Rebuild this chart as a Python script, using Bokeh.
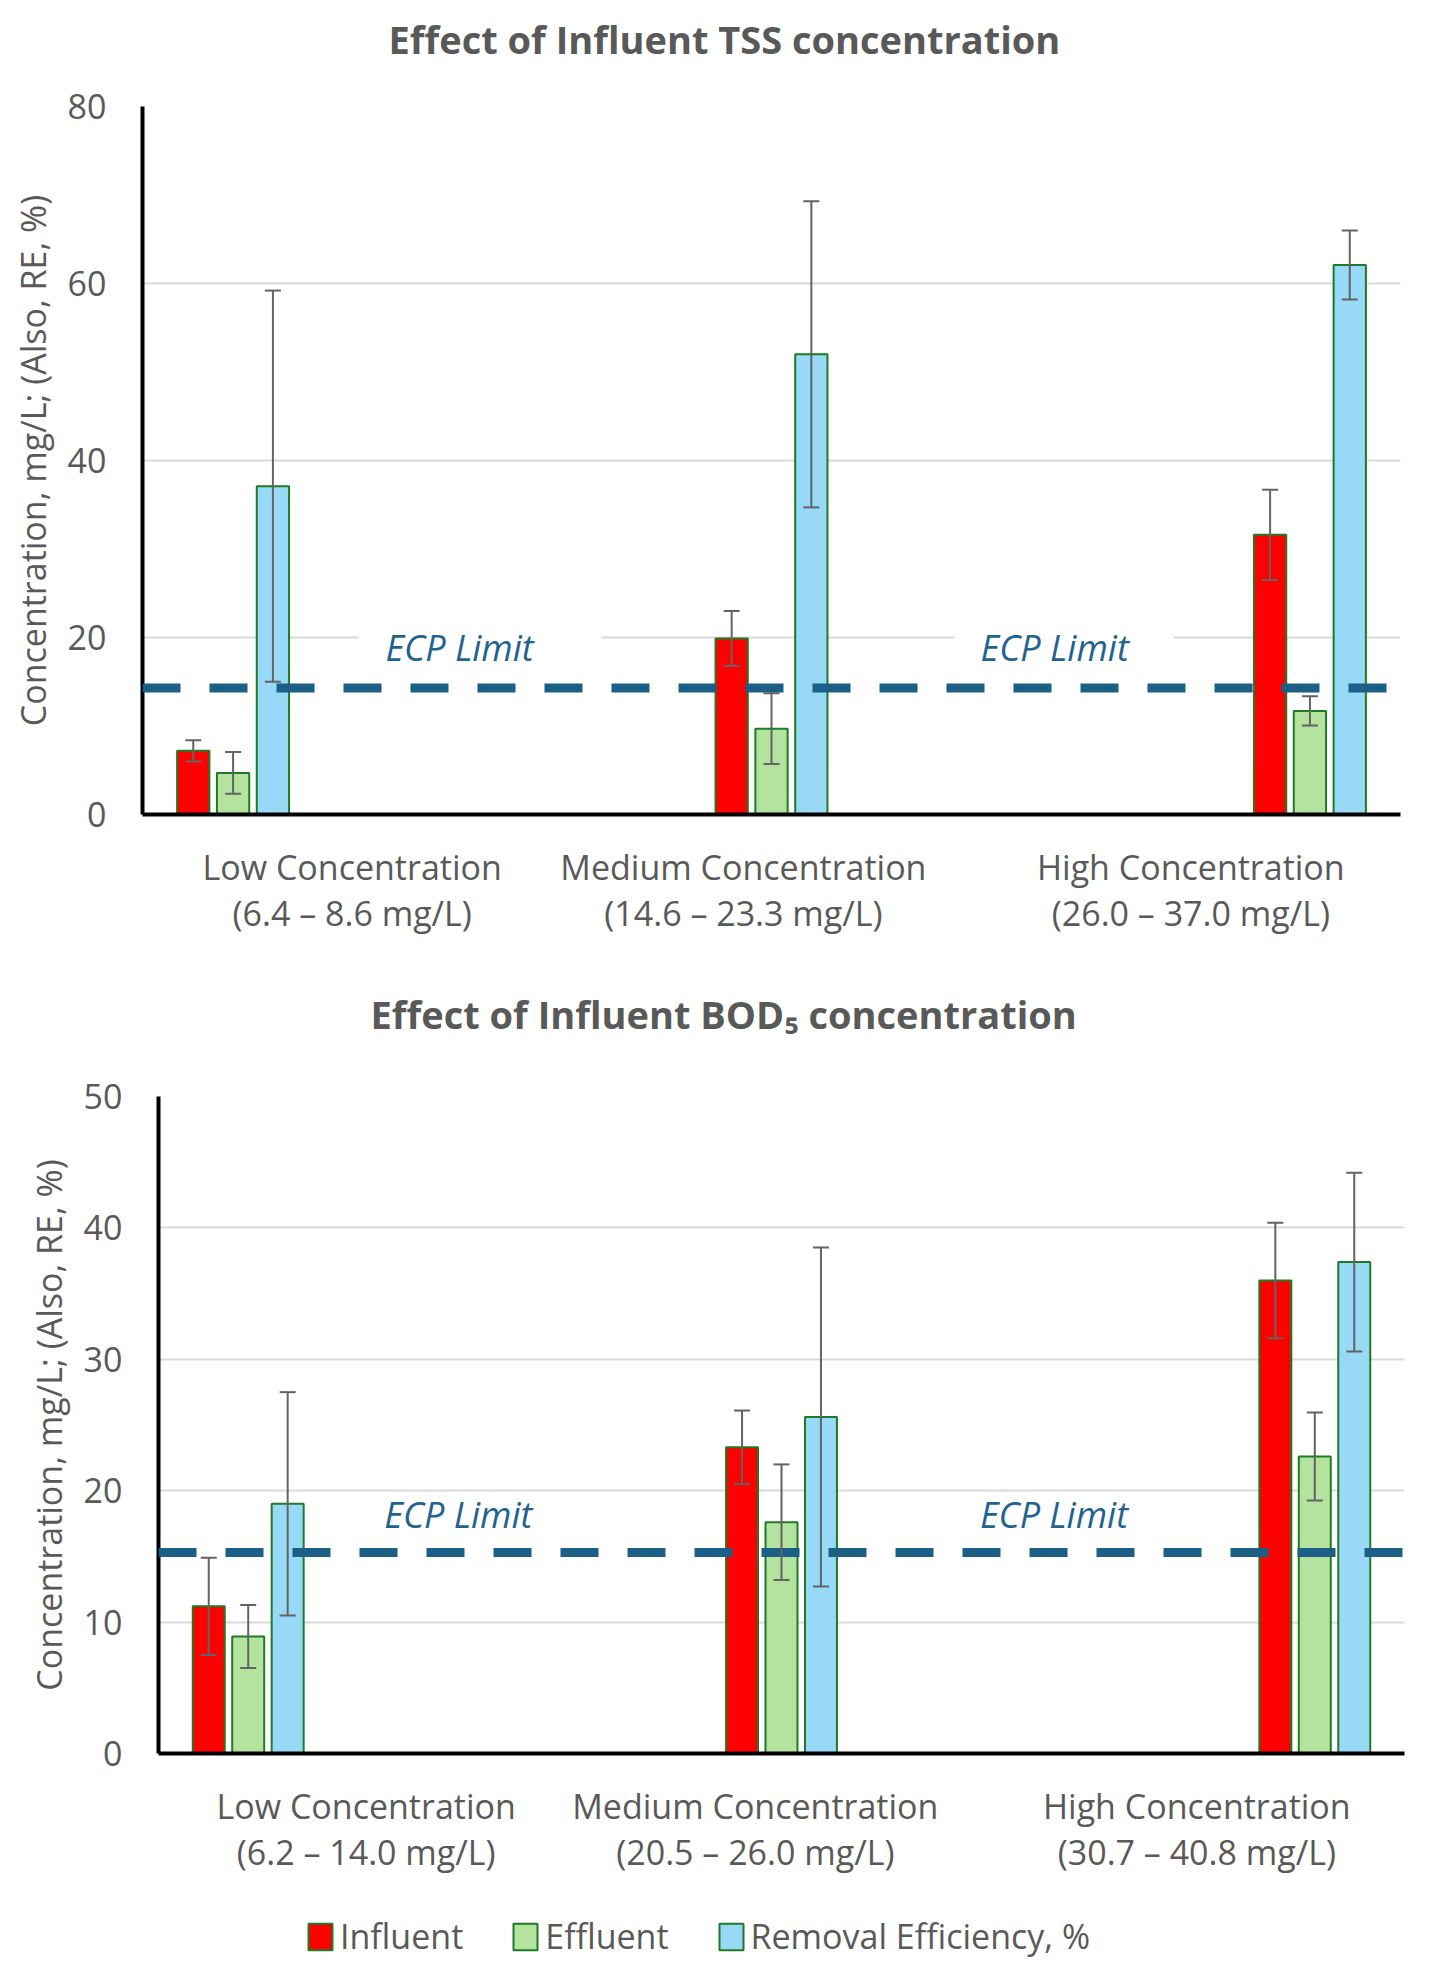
from bokeh.plotting import figure
from bokeh.models import (Range1d, ColumnDataSource, Whisker, TeeHead, Span, Label,
                          FixedTicker, Legend, LegendItem, Title)
from bokeh.embed import file_html
from bokeh.resources import INLINE

# ---------------- data ----------------
series_names = ["Influent", "Effluent", "Removal Efficiency, %"]

tss_title = "Effect of Influent TSS concentration"
tss_categories = ["Low Concentration\n(6.4 – 8.6 mg/L)",
                  "Medium Concentration\n(14.6 – 23.3 mg/L)",
                  "High Concentration\n(26.0 – 37.0 mg/L)"]
tss_influent = [7.2, 19.9, 31.6]
tss_influent_sd = [1.2, 3.1, 5.1]
tss_effluent = [4.7, 9.7, 11.7]
tss_effluent_sd = [2.35, 4.0, 1.65]
tss_removal = [37.1, 52.0, 62.1]
tss_removal_sd = [22.1, 17.3, 3.9]
tss_ecp_limit = 14.3
tss_y_ticks = [0, 20, 40, 60, 80]

bod_title = "Effect of Influent BOD\u2085 concentration"
bod_categories = ["Low Concentration\n(6.2 – 14.0 mg/L)",
                  "Medium Concentration\n(20.5 – 26.0 mg/L)",
                  "High Concentration\n(30.7 – 40.8 mg/L)"]
bod_influent = [11.2, 23.3, 36.0]
bod_influent_sd = [3.7, 2.8, 4.4]
bod_effluent = [8.9, 17.6, 22.6]
bod_effluent_sd = [2.4, 4.4, 3.35]
bod_removal = [19.0, 25.6, 37.4]
bod_removal_sd = [8.5, 12.9, 6.8]
bod_ecp_limit = 15.3
bod_y_ticks = [0, 10, 20, 30, 40, 50]

y_label = "Concentration, mg/L; (Also, RE, %)"
ecp_text = "ECP Limit"

# ---------------- style ----------------
FONT = "Open Sans"
GRAY = "#595959"
COLORS = ["#FF0000", "#B4E3A0", "#97D9F6"]
OUTLINE = "#1E7B22"
ECP_COLOR = "#1B5E86"
ECP_TEXT = "#1F6391"
ERR_COLOR = "#636363"


def set_padding(lab, pad):
    left, right, top, bottom = pad
    for val in (dict(left=left, right=right, top=top, bottom=bottom),
                (left, right, top, bottom), max(left, right)):
        try:
            lab.padding = val
            return
        except Exception:
            continue


def make_chart(title, cats, vals, sds, ecp, y_ticks, height, borders,
               title_offset, title_gap, ecp_xs, ecp_y, ecp_pads, label_ticks):
    p = figure(width=1433, height=height,
               x_range=Range1d(0, 3), y_range=Range1d(0, y_ticks[-1]),
               output_backend="svg", toolbar_location=None,
               min_border_left=borders[0], min_border_right=borders[1],
               min_border_top=borders[2], min_border_bottom=borders[3])
    p.outline_line_color = None
    p.background_fill_color = "white"
    p.border_fill_color = "white"
    p.xgrid.visible = False
    p.ygrid.grid_line_color = "#D9D9D9"
    p.ygrid.grid_line_width = 2

    # chart title: a thin spacer panel next to the frame, then the title
    p.add_layout(Title(text=" ", text_font_size="2px", standoff=title_gap), "above")
    p.add_layout(Title(text=title, align="left", offset=title_offset, standoff=0,
                       vertical_align="bottom", text_font=FONT,
                       text_font_style="bold", text_font_size="38px",
                       text_color=GRAY), "above")

    # axes
    p.yaxis.ticker = FixedTicker(ticks=y_ticks)
    p.xaxis.ticker = FixedTicker(ticks=label_ticks)
    p.xaxis.major_label_overrides = {t: c for t, c in zip(label_ticks, cats)}
    for ax in (p.xaxis, p.yaxis):
        ax.axis_line_color = "black"
        ax.axis_line_width = 4
        ax.major_tick_line_color = None
        ax.minor_tick_line_color = None
        ax.major_label_text_font = FONT
        ax.major_label_text_font_size = "34px"
        ax.major_label_text_color = GRAY
    p.yaxis.major_label_standoff = 30
    p.xaxis.major_label_standoff = 23
    p.xaxis.major_label_text_line_height = 1.0
    p.yaxis.axis_label = y_label
    p.yaxis.axis_label_text_font = FONT
    p.yaxis.axis_label_text_font_size = "34px"
    p.yaxis.axis_label_text_font_style = "normal"
    p.yaxis.axis_label_text_color = GRAY
    p.yaxis.axis_label_standoff = 9

    # bars: three groups spread over the three category slots
    margin = 0.216
    centers = [margin + i * (3 - 2 * margin) / 2 for i in range(len(cats))]
    offsets = [-0.095, 0.0, 0.095]
    for k in range(3):
        src = ColumnDataSource(dict(
            x=[c + offsets[k] for c in centers],
            top=vals[k],
            upper=[v + s for v, s in zip(vals[k], sds[k])],
            lower=[v - s for v, s in zip(vals[k], sds[k])],
        ))
        p.vbar(x="x", top="top", bottom=0, width=0.077, source=src,
               fill_color=COLORS[k], line_color=OUTLINE, line_width=2)
        w = Whisker(base="x", upper="upper", lower="lower", source=src,
                    level="overlay", line_color=ERR_COLOR, line_width=2,
                    upper_head=TeeHead(size=16, line_color=ERR_COLOR, line_width=2),
                    lower_head=TeeHead(size=16, line_color=ERR_COLOR, line_width=2))
        p.add_layout(w)

    # ECP limit line
    p.add_layout(Span(location=ecp, dimension="width", line_color=ECP_COLOR,
                      line_width=9, line_dash="38 29", level="annotation"))
    for x, pad in zip(ecp_xs, ecp_pads):
        lab = Label(x=x, y=ecp_y, text=ecp_text, text_align="center",
                    text_baseline="alphabetic", text_font=FONT,
                    text_font_style="italic", text_font_size="36px",
                    text_color=ECP_TEXT, level="overlay")
        if pad is not None:
            lab.background_fill_color = "white"
            set_padding(lab, pad)
        p.add_layout(lab)
    return p


p1 = make_chart(tss_title, tss_categories,
                [tss_influent, tss_effluent, tss_removal],
                [tss_influent_sd, tss_effluent_sd, tss_removal_sd],
                tss_ecp_limit, tss_y_ticks, 960, (142, 33, 106, 146),
                246, 38, [0.805, 2.198], 18.9,
                [(27, 68, 4, 4), (26, 45, 4, 4)], [0.5, 1.433, 2.5])

p2 = make_chart(bod_title, bod_categories,
                [bod_influent, bod_effluent, bod_removal],
                [bod_influent_sd, bod_effluent_sd, bod_removal_sd],
                bod_ecp_limit, bod_y_ticks, 930, (158, 29, 136, 137),
                212, 53, [0.722, 2.156], 18.2, [None, None], [0.5, 1.437, 2.5])

# shared legend strip below the two charts (its swatch renderers stay hidden;
# the legend draws their glyph style)
leg = figure(width=1433, height=81, x_range=Range1d(0, 3), y_range=Range1d(0, 50),
             x_axis_type=None, y_axis_type=None, output_backend="svg",
             toolbar_location=None, min_border=0)
leg.outline_line_color = None
leg.background_fill_color = "white"
leg.border_fill_color = "white"
swatches = []
for c, series in zip(COLORS, [bod_influent, bod_effluent, bod_removal]):
    r = leg.vbar(x=list(range(len(series))), top=series, width=0.077,
                 fill_color=c, line_color=OUTLINE, line_width=2)
    r.visible = False
    swatches.append(r)
legend = Legend(items=[LegendItem(label=n, renderers=[r])
                       for n, r in zip(series_names, swatches)],
                location=(305, 12), orientation="horizontal",
                padding=0, margin=0, spacing=47, label_standoff=5,
                glyph_width=30, glyph_height=33,
                label_text_font=FONT, label_text_font_size="34px",
                label_text_color=GRAY, border_line_alpha=0,
                background_fill_alpha=0)
leg.add_layout(legend)

open("out.html", "w").write(file_html([p1, p2, leg], INLINE))
